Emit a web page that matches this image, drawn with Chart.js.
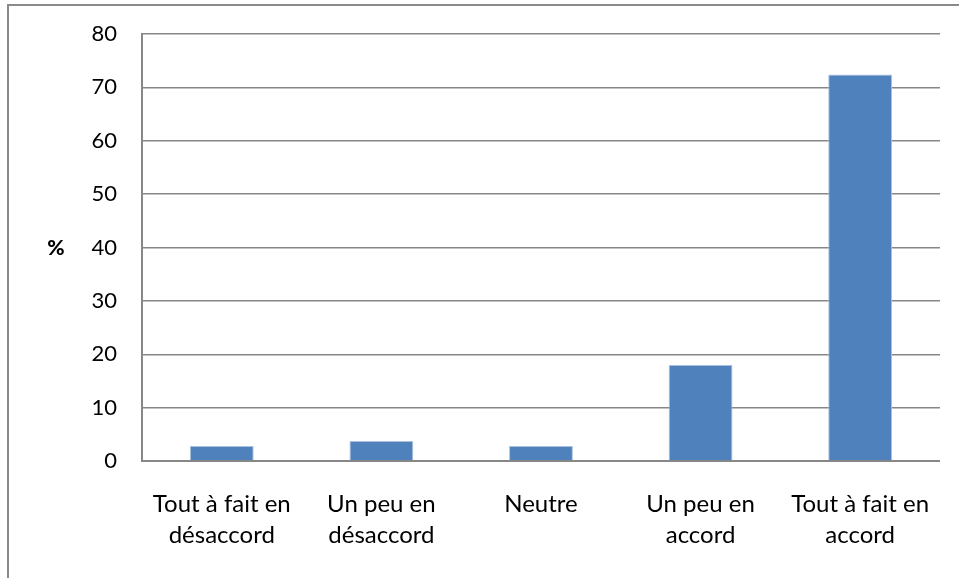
<!DOCTYPE html>
<html>
<head>
<meta charset="utf-8">
<script src="https://cdn.jsdelivr.net/npm/chart.js@4/dist/chart.umd.min.js"></script>
<style>
  html, body { margin: 0; padding: 0; background: #fff; }
  #wrap { position: relative; width: 959px; height: 578px; overflow: hidden; }
  #frame { position: absolute; left: 7px; top: 4px; width: 1000px; height: 700px;
           border-left: 2px solid #8a8a8a; border-top: 2px solid #8a8a8a; }
  canvas { position: absolute; left: 0; top: 0; }
</style>
</head>
<body>
<div id="wrap">
  <div id="frame"></div>
  <canvas id="c" width="959" height="578"></canvas>
</div>
<script>
// Réponses (en %)
const categories = [
  ["Tout à fait en", "désaccord"],
  ["Un peu en", "désaccord"],
  ["Neutre"],
  ["Un peu en", "accord"],
  ["Tout à fait en", "accord"]
];
const values = [2.8, 3.75, 2.8, 18, 72.4];
const yTicks = [0, 10, 20, 30, 40, 50, 60, 70, 80];
const yAxisLabel = "%";

const FONT = "Lato, 'Open Sans', sans-serif";

// Upright axis label on the left of the value axis
const percentLabel = {
  id: 'percentLabel',
  afterDraw(chart) {
    const { ctx, chartArea } = chart;
    ctx.save();
    ctx.font = "900 21px " + FONT;
    ctx.fillStyle = "#000";
    ctx.textAlign = "center";
    ctx.textBaseline = "middle";
    ctx.fillText(yAxisLabel, 56, (chartArea.top + chartArea.bottom) / 2 + 1);
    ctx.restore();
  }
};

new Chart(document.getElementById('c'), {
  type: 'bar',
  data: {
    labels: categories,
    datasets: [{
      data: values,
      backgroundColor: '#4f81bd',
      borderColor: '#a9c1de',
      borderWidth: 1,
      categoryPercentage: 1,
      barPercentage: 0.4
    }]
  },
  options: {
    responsive: false,
    animation: false,
    devicePixelRatio: 1,
    layout: { padding: { top: 34, right: 19, left: 0, bottom: 0 } },
    plugins: { legend: { display: false }, tooltip: { enabled: false } },
    scales: {
      x: {
        grid: { display: false, drawTicks: false },
        border: { display: true, color: '#878787', width: 2 },
        ticks: {
          color: '#000',
          font: { family: FONT, size: 24, lineHeight: 31 / 24 },
          padding: 28,
          maxRotation: 0,
          autoSkip: false
        },
        afterFit(scale) { scale.height = 578 - 461; }
      },
      y: {
        min: 0,
        max: 80,
        afterBuildTicks(scale) { scale.ticks = yTicks.map(v => ({ value: v })); },
        grid: { color: '#878787', lineWidth: 1.5, drawTicks: false },
        border: { display: true, color: '#878787', width: 2 },
        ticks: {
          color: '#000',
          font: { family: FONT, size: 22 },
          padding: 25
        },
        afterFit(scale) {
          scale.width = 142;
          scale.paddingTop = 0;
          scale.paddingBottom = 0;
        }
      }
    }
  },
  plugins: [percentLabel]
});
</script>
</body>
</html>
